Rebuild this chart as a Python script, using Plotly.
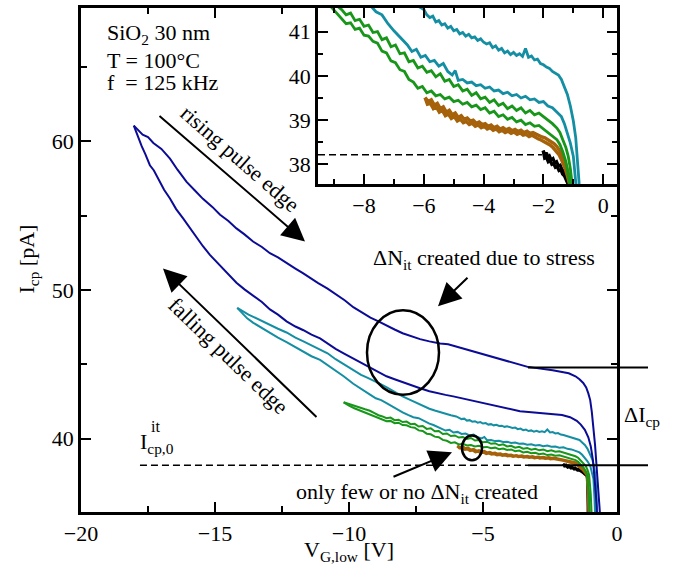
import plotly.graph_objects as go

# ---------------- data ----------------
navy_rise_v = [-18.03, -17.85, -17.7, -17.5, -17.3, -17.0, -16.68, -16.4, -16.06, -15.75, -15.45, -15.1, -14.81, -14.5, -14.2,
               -13.9, -13.58, -13.25, -12.95, -12.65, -12.33, -12.0, -11.72, -11.45, -11.15, -10.8, -10.5, -10.15, -9.84, -9.5,
               -9.2, -8.9, -8.6, -8.3, -8.0, -7.7, -7.35, -7.0, -6.6, -6.3, -6.0, -5.7, -5.4, -5.1, -4.86, -4.5, -4.2, -3.9,
               -3.6, -3.3, -3.0, -2.7, -2.4, -2.1, -1.8, -1.55, -1.4, -1.26, -1.15, -1.07, -1.0, -0.94, -0.88, -0.82, -0.76,
               -0.7, -0.64]
navy_rise_i = [61.07, 60.75, 60.45, 60.3, 59.9, 59.5, 58.84, 58.1, 57.28, 56.7, 56.14, 55.6, 55.07, 54.65, 54.15,
               53.75, 53.27, 52.9, 52.48, 52.2, 51.81, 51.45, 51.14, 50.8, 50.47, 50.1, 49.75, 49.3, 48.85, 48.5,
               48.15, 47.9, 47.6, 47.35, 47.1, 46.9, 46.7, 46.55, 46.4, 46.35, 46.2, 46.05, 45.9, 45.75, 45.62, 45.45, 45.3, 45.15,
               45.0, 44.82, 44.75, 44.7, 44.6, 44.5, 44.4, 44.2, 44.0, 43.75, 43.45, 43.05, 42.6, 41.8, 40.9, 39.6, 38.1,
               36.6, 35.07]
navy_fall_v = [-18.03, -17.9, -17.74, -17.6, -17.43, -17.28, -17.12, -16.9, -16.68, -16.45, -16.19, -15.95, -15.68, -15.45,
               -15.19, -14.95, -14.69, -14.45, -14.2, -13.9, -13.57, -13.25, -12.95, -12.65, -12.33, -12.0, -11.7, -11.4,
               -11.08, -10.8, -10.5, -10.2, -9.84, -9.5, -9.2, -8.9, -8.6, -8.3, -8.0, -7.7, -7.35, -7.0, -6.7, -6.4, -6.11,
               -5.8, -5.5, -5.2, -4.86, -4.5, -4.2, -3.9, -3.62, -3.3, -3.0, -2.7, -2.38, -2.05, -1.75, -1.5, -1.35, -1.2,
               -1.07, -0.98, -0.9, -0.84, -0.79, -0.75]
navy_fall_i = [61.07, 60.4, 59.7, 59.15, 58.4, 58.05, 57.5, 56.75, 56.16, 55.45, 54.82, 54.2, 53.49, 52.95,
               52.37, 51.9, 51.4, 50.95, 50.5, 50.05, 49.6, 49.2, 48.7, 48.35, 47.9, 47.55, 47.3, 47.0,
               46.75, 46.4, 46.05, 45.75, 45.4, 45.05, 44.8, 44.5, 44.2, 44.0, 43.8, 43.6, 43.4, 43.2, 43.05, 42.95, 42.85,
               42.72, 42.6, 42.48, 42.35, 42.2, 42.05, 41.95, 41.85, 41.8, 41.75, 41.72, 41.65, 41.6, 41.45, 41.2, 40.95, 40.6,
               40.1, 39.5, 38.6, 37.6, 36.3, 35.07]

teal_rise_v = [-14.17, -13.95, -13.75, -13.57, -13.3, -12.95, -12.65, -12.33, -12.0, -11.7, -11.4, -11.08, -10.8, -10.5,
               -10.2, -9.84, -9.55, -9.3, -9.0, -8.8, -8.59, -8.3, -8.0, -7.7, -7.35, -7.0, -6.8, -6.6, -6.4, -6.2, -6.0,
               -5.9, -5.8, -5.7, -5.6, -5.5, -5.4, -5.3, -5.2, -5.1, -5.0, -4.9, -4.8, -4.7, -4.6, -4.5, -4.4, -4.3, -4.2,
               -4.1, -4.0, -3.9, -3.8, -3.7, -3.6, -3.5, -3.4, -3.3, -3.2, -3.1, -3.0, -2.9, -2.8, -2.7, -2.6, -2.5, -2.4,
               -2.3, -2.2, -2.1, -2.0, -1.9, -1.8, -1.7, -1.6, -1.5, -1.4, -1.3, -1.2, -1.1, -1.0, -0.92, -0.86, -0.81,
               -0.77, -0.74]
teal_rise_i = [48.8, 48.55, 48.35, 48.2, 47.95, 47.65, 47.4, 47.15, 46.8, 46.55, 46.3, 46.0, 45.75, 45.35,
               45.0, 44.6, 44.3, 44.1, 43.85, 43.65, 43.45, 43.15, 42.85, 42.6, 42.3, 42.02, 41.9, 41.78, 41.66, 41.58, 41.5,
               41.38, 41.32, 41.35, 41.22, 41.25, 41.15, 41.18, 41.08, 41.12, 41.02, 41.05, 40.95, 40.98, 40.9, 40.94, 40.86,
               40.88, 40.8, 40.84, 40.76, 40.72, 40.75, 40.64, 40.68, 40.58, 40.62, 40.52, 40.56, 40.48, 40.53, 40.46, 40.5,
               40.44, 40.62, 40.42, 40.45, 40.36, 40.38, 40.28, 40.25, 40.2, 40.17, 40.1, 40.06, 40.02, 39.92, 39.75, 39.58,
               39.32, 38.98, 38.6, 38.15, 37.6, 36.5, 35.07]
teal_fall_v = [-14.17, -14.0, -13.8, -13.57, -13.3, -12.95, -12.65, -12.33, -12.0, -11.7, -11.4, -11.08, -10.8, -10.5,
               -10.2, -9.84, -9.6, -9.4, -9.2, -9.0, -8.8, -8.6, -8.4, -8.2, -8.0, -7.8, -7.6, -7.4, -7.2, -7.0, -6.85,
               -6.7, -6.55, -6.4, -6.25, -6.1, -5.95, -5.8, -5.65, -5.5, -5.35, -5.2, -5.05, -4.95, -4.85, -4.7, -4.55,
               -4.4, -4.25, -4.1, -3.95, -3.8, -3.65, -3.5, -3.35, -3.2, -3.05, -2.9, -2.75, -2.6, -2.45, -2.3, -2.15,
               -2.0, -1.85, -1.7, -1.55, -1.4, -1.3, -1.2, -1.1, -1.0, -0.93, -0.88, -0.84, -0.82]
teal_fall_i = [48.8, 48.45, 48.1, 47.8, 47.5, 47.1, 46.8, 46.5, 46.15, 45.85, 45.55, 45.3, 44.95, 44.6,
               44.2, 43.7, 43.4, 43.15, 42.95, 42.72, 42.6, 42.4, 42.18, 41.98, 41.78, 41.6, 41.45, 41.38, 41.18, 41.02, 40.92,
               40.8, 40.7, 40.55, 40.6, 40.42, 40.46, 40.32, 40.35, 40.22, 40.28, 40.1, 40.02, 40.12, 39.9, 39.92, 39.84,
               39.86, 39.78, 39.8, 39.72, 39.75, 39.66, 39.68, 39.6, 39.63, 39.55, 39.58, 39.5, 39.54, 39.46, 39.48, 39.4,
               39.42, 39.32, 39.28, 39.18, 39.08, 38.92, 38.72, 38.48, 38.18, 37.75, 37.3, 36.0, 35.07]

green_rise_v = [-10.2, -10.0, -9.8, -9.6, -9.4, -9.22, -9.05, -8.9, -8.75, -8.6, -8.45, -8.3, -8.15, -8.0, -7.85, -7.7,
                -7.55, -7.4, -7.25, -7.1, -6.95, -6.8, -6.65, -6.5, -6.35, -6.2, -6.05, -5.9, -5.75, -5.6, -5.45, -5.3,
                -5.15, -5.0, -4.85, -4.7, -4.55, -4.4, -4.25, -4.1, -3.95, -3.8, -3.65, -3.5, -3.35, -3.2, -3.05, -2.9,
                -2.75, -2.6, -2.45, -2.3, -2.15, -2.0, -1.85, -1.7, -1.55, -1.45, -1.35, -1.25, -1.17, -1.1, -1.04, -0.98,
                -0.95]
green_rise_i = [42.45, 42.35, 42.22, 42.1, 41.98, 41.88, 41.72, 41.58, 41.5, 41.38, 41.42, 41.25, 41.28, 41.12, 41.15, 40.98,
                41.0, 40.82, 40.86, 40.66, 40.7, 40.5, 40.52, 40.32, 40.35, 40.18, 40.22, 40.08, 40.12, 39.98, 40.05, 39.88,
                39.92, 39.76, 39.8, 39.66, 39.7, 39.56, 39.62, 39.48, 39.52, 39.4, 39.46, 39.33, 39.38, 39.26, 39.32, 39.22,
                39.28, 39.16, 39.22, 39.12, 39.16, 39.08, 39.02, 38.92, 38.82, 38.72, 38.55, 38.38, 38.18, 37.9, 37.56, 36.3,
                35.07]
green_fall_v = [-10.2, -10.0, -9.8, -9.6, -9.4, -9.22, -9.05, -8.9, -8.75, -8.6, -8.45, -8.3, -8.15, -8.0, -7.85, -7.7,
                -7.55, -7.4, -7.25, -7.1, -6.95, -6.8, -6.65, -6.5, -6.35, -6.2, -6.05, -5.9, -5.75, -5.6, -5.45, -5.3,
                -5.15, -5.0, -4.85, -4.7, -4.55, -4.4, -4.25, -4.1, -3.95, -3.8, -3.65, -3.5, -3.35, -3.2, -3.05, -2.9,
                -2.75, -2.6, -2.45, -2.3, -2.15, -2.0, -1.85, -1.7, -1.55, -1.45, -1.35, -1.25, -1.18, -1.12, -1.06, -1.02]
green_fall_i = [42.45, 42.22, 42.05, 41.9, 41.78, 41.66, 41.52, 41.4, 41.3, 41.18, 41.2, 41.05, 41.08, 40.92, 40.9, 40.78,
                40.74, 40.56, 40.52, 40.34, 40.3, 40.14, 40.1, 39.92, 39.86, 39.72, 39.76, 39.62, 39.66, 39.55, 39.58, 39.48,
                39.52, 39.42, 39.45, 39.36, 39.4, 39.3, 39.34, 39.24, 39.28, 39.16, 39.2, 39.08, 39.12, 39.02, 39.06, 38.96,
                39.0, 38.9, 38.94, 38.86, 38.88, 38.8, 38.74, 38.66, 38.56, 38.45, 38.28, 38.06, 37.82, 37.56, 36.4, 35.07]

brown_rise_v = [-5.96, -5.85, -5.75, -5.65, -5.55, -5.45, -5.35, -5.25, -5.15, -5.05, -4.95, -4.85, -4.75, -4.65, -4.55,
                -4.45, -4.35, -4.25, -4.15, -4.05, -3.95, -3.85, -3.75, -3.65, -3.55, -3.45, -3.35, -3.25, -3.15, -3.05,
                -2.95, -2.85, -2.75, -2.65, -2.55, -2.45, -2.35, -2.25, -2.15, -2.05, -1.95, -1.85, -1.75, -1.65, -1.55,
                -1.45, -1.35, -1.25, -1.17, -1.1, -1.06, -1.04]
brown_rise_i = [39.51, 39.42, 39.46, 39.34, 39.38, 39.26, 39.3, 39.18, 39.22, 39.12, 39.16, 39.06, 39.1, 39.02, 39.05,
                38.98, 39.0, 38.93, 38.96, 38.9, 38.92, 38.86, 38.89, 38.83, 38.86, 38.8, 38.83, 38.78, 38.81, 38.76,
                38.79, 38.74, 38.77, 38.72, 38.75, 38.7, 38.72, 38.68, 38.66, 38.62, 38.6, 38.56, 38.52, 38.47, 38.4,
                38.3, 38.16, 38.0, 37.8, 37.56, 36.5, 35.07]
brown_fall_v = [-5.96, -5.88, -5.78, -5.68, -5.58, -5.48, -5.38, -5.28, -5.18, -5.08, -4.98, -4.88, -4.78, -4.68, -4.58,
                -4.48, -4.38, -4.28, -4.18, -4.08, -3.98, -3.88, -3.78, -3.68, -3.58, -3.48, -3.38, -3.28, -3.18, -3.08,
                -2.98, -2.88, -2.78, -2.68, -2.58, -2.48, -2.38, -2.28, -2.18, -2.08, -1.98, -1.88, -1.78, -1.68, -1.58,
                -1.48, -1.38, -1.28, -1.2, -1.13, -1.08, -1.06]
brown_fall_i = [39.51, 39.36, 39.38, 39.26, 39.3, 39.18, 39.22, 39.1, 39.14, 39.04, 39.08, 38.98, 39.02, 38.94, 38.97,
                38.9, 38.93, 38.86, 38.89, 38.83, 38.86, 38.8, 38.83, 38.77, 38.8, 38.74, 38.77, 38.72, 38.75, 38.7,
                38.73, 38.68, 38.71, 38.66, 38.68, 38.63, 38.66, 38.61, 38.58, 38.55, 38.52, 38.48, 38.44, 38.38, 38.31,
                38.22, 38.08, 37.92, 37.74, 37.56, 36.4, 35.07]

black_rise_v = [-2.01, -1.95, -1.9, -1.85, -1.8, -1.74, -1.68, -1.62, -1.56, -1.5, -1.44, -1.38, -1.32, -1.26, -1.2,
                -1.14, -1.1, -1.08, -1.07]
black_rise_i = [38.31, 38.22, 38.26, 38.16, 38.19, 38.1, 38.13, 38.03, 38.06, 37.96, 37.98, 37.88, 37.86, 37.76, 37.7,
                37.58, 37.4, 36.5, 35.07]
black_fall_v = [-2.01, -1.96, -1.9, -1.84, -1.78, -1.72, -1.66, -1.6, -1.54, -1.48, -1.42, -1.36, -1.3, -1.24, -1.18,
                -1.13, -1.1, -1.09]
black_fall_i = [38.31, 38.14, 38.16, 38.06, 38.09, 38.0, 38.02, 37.93, 37.95, 37.86, 37.88, 37.78, 37.74, 37.66, 37.58,
                37.48, 37.2, 35.07]

i_cp0 = 38.22          # reference level I_cp,0^it
i_cp_stress = 44.79    # level after stress

main_xticks = [-20, -15, -10, -5, 0]
main_xticktext = ["\u221220", "\u221215", "\u221210", "\u22125", "0"]
main_xminor = [-17.5, -12.5, -7.5, -2.5]
main_yticks = [40, 50, 60]
main_yminor = [45, 55, 65]
ins_xticks = [-8, -6, -4, -2, 0]
ins_xticktext = ["\u22128", "\u22126", "\u22124", "\u22122", "0"]
ins_xminor = [-9, -7, -5, -3, -1]
ins_yticks = [38, 39, 40, 41]
ins_yminor = [38.5, 39.5, 40.5]

# ---------------- layout geometry ----------------
W, H = 685, 567
L, R, T, B = 81, 617, 5, 512
XR = [-20, 0]
YR = [35.07, 68.98]
INS_L, INS_B = 318, 182
IXR = [-9.54, 0.46]
IYR = [37.557, 41.535]
FONT = "Liberation Serif, Times New Roman, serif"


def P(px, py):
    return (px - L) / (R - L), (B - py) / (B - T)


def yfrac(v):
    return (v - YR[0]) / (YR[1] - YR[0])


NAVY = "#0b0b96"
TEAL = "#148ea3"
GREEN = "#17961a"
BROWN = "#a5620a"
BLACK = "#000000"

fig = go.Figure()

series = [
    (black_rise_v, black_rise_i, BLACK, 2.4),
    (black_fall_v, black_fall_i, BLACK, 2.4),
    (brown_rise_v, brown_rise_i, BROWN, 2.6),
    (brown_fall_v, brown_fall_i, BROWN, 2.6),
    (green_rise_v, green_rise_i, GREEN, 2.0),
    (green_fall_v, green_fall_i, GREEN, 2.0),
    (teal_rise_v, teal_rise_i, TEAL, 2.0),
    (teal_fall_v, teal_fall_i, TEAL, 2.0),
]
for vx, iy, col, w in series:
    fig.add_trace(go.Scatter(x=vx, y=iy, mode="lines", line=dict(color=col, width=w),
                             xaxis="x", yaxis="y", showlegend=False, hoverinfo="skip"))
for vx, iy in [(navy_rise_v, navy_rise_i), (navy_fall_v, navy_fall_i)]:
    fig.add_trace(go.Scatter(x=vx, y=iy, mode="lines", line=dict(color=NAVY, width=2.0),
                             xaxis="x", yaxis="y", showlegend=False, hoverinfo="skip"))
# inset
for vx, iy, col, w in series:
    fig.add_trace(go.Scatter(x=vx, y=iy, mode="lines", line=dict(color=col, width=w + 0.8),
                             xaxis="x2", yaxis="y2", showlegend=False, hoverinfo="skip"))
# dummy traces for the partial mirrored tick axes
fig.add_trace(go.Scatter(x=[], y=[], xaxis="x3", yaxis="y", showlegend=False))
fig.add_trace(go.Scatter(x=[], y=[], xaxis="x", yaxis="y3", showlegend=False))

tickfont = dict(family=FONT, size=22, color="black")
ax_common = dict(showgrid=False, zeroline=False, showline=True, linecolor="black", linewidth=2.5,
                 ticks="inside", ticklen=10, tickwidth=2, tickcolor="black", tickfont=tickfont)

ins_x0 = (INS_L - L) / (R - L)
ins_y0 = (B - INS_B) / (B - T)
top_frac = ins_x0
right_frac = ins_y0

fig.update_layout(
    width=W, height=H,
    margin=dict(l=L, r=W - R, t=T, b=H - B),
    paper_bgcolor="white", plot_bgcolor="rgba(0,0,0,0)",
    showlegend=False,
    font=dict(family=FONT, size=22, color="black"),
    xaxis=dict(**ax_common, domain=[0, 1], range=XR, anchor="y", mirror=True,
               tickmode="array", tickvals=main_xticks, ticktext=main_xticktext,
               minor=dict(tickmode="array", tickvals=main_xminor, ticks="inside", ticklen=6, tickwidth=2,
                          tickcolor="black")),
    yaxis=dict(**ax_common, domain=[0, 1], range=YR, anchor="x", mirror=True,
               tickmode="array", tickvals=main_yticks,
               minor=dict(tickmode="array", tickvals=main_yminor, ticks="inside", ticklen=6, tickwidth=2,
                          tickcolor="black")),
    xaxis3=dict(showgrid=False, zeroline=False, showline=False, ticks="inside", ticklen=10, tickwidth=2,
                tickcolor="black", showticklabels=False, anchor="y", side="top",
                domain=[0, top_frac], range=[XR[0], XR[0] + top_frac * (XR[1] - XR[0])],
                tickmode="array", tickvals=main_xticks,
                minor=dict(tickmode="array", tickvals=main_xminor, ticks="inside", ticklen=6, tickwidth=2,
                           tickcolor="black")),
    yaxis3=dict(showgrid=False, zeroline=False, showline=False, ticks="inside", ticklen=10, tickwidth=2,
                tickcolor="black", showticklabels=False, anchor="x", side="right",
                domain=[0, right_frac], range=[YR[0], YR[0] + right_frac * (YR[1] - YR[0])],
                tickmode="array", tickvals=main_yticks,
                minor=dict(tickmode="array", tickvals=main_yminor, ticks="inside", ticklen=6, tickwidth=2,
                           tickcolor="black")),
    xaxis2=dict(**ax_common, domain=[ins_x0, 1], range=IXR, anchor="y2", mirror="ticks",
                tickmode="array", tickvals=ins_xticks, ticktext=ins_xticktext,
                minor=dict(tickmode="array", tickvals=ins_xminor, ticks="inside", ticklen=5, tickwidth=2,
                           tickcolor="black")),
    yaxis2=dict(**ax_common, domain=[ins_y0, 1], range=IYR, anchor="x2", mirror="ticks",
                tickmode="array", tickvals=ins_yticks,
                minor=dict(tickmode="array", tickvals=ins_yminor, ticks="inside", ticklen=5, tickwidth=2,
                           tickcolor="black")),
)

shapes = []
shapes.append(dict(type="line", xref="x", yref="y", x0=-17.8, x1=-3.32, y0=i_cp0, y1=i_cp0,
                   line=dict(color="black", width=1.5, dash="7px,4px")))
shapes.append(dict(type="line", xref="x2", yref="y2", x0=IXR[0], x1=-2.05, y0=i_cp0, y1=i_cp0,
                   line=dict(color="black", width=1.5, dash="7px,4px")))
for lvl in (i_cp0, i_cp_stress):
    x0p, _ = P(528, 0)
    x1p, _ = P(648, 0)
    shapes.append(dict(type="line", xref="paper", yref="paper", x0=x0p, x1=x1p, y0=yfrac(lvl), y1=yfrac(lvl),
                       line=dict(color="black", width=2)))
ex0, ey0 = P(367, 394)
ex1, ey1 = P(439, 309)
shapes.append(dict(type="circle", xref="paper", yref="paper", x0=ex0, x1=ex1, y0=ey0, y1=ey1,
                   line=dict(color="black", width=2.5)))
sx0, sy0 = P(462, 460)
sx1, sy1 = P(482, 435)
shapes.append(dict(type="circle", xref="paper", yref="paper", x0=sx0, x1=sx1, y0=sy0, y1=sy1,
                   line=dict(color="black", width=2.5)))
fig.update_layout(shapes=shapes)

ann = []


def text(px, py, s, xanchor="center", yanchor="middle", angle=0, size=22):
    x, y = P(px, py)
    ann.append(dict(x=x, y=y, xref="paper", yref="paper", text=s, showarrow=False, xanchor=xanchor,
                    yanchor=yanchor, textangle=angle, font=dict(family=FONT, size=size, color="black")))


def arrow(tx, ty, hx, hy):
    x, y = P(hx, hy)
    ann.append(dict(x=x, y=y, xref="paper", yref="paper", text="", showarrow=True, ax=tx - hx, ay=ty - hy,
                    axref="pixel", ayref="pixel", arrowhead=2, arrowsize=2.3, arrowwidth=2, arrowcolor="black",
                    standoff=0))


text(105, 31, "SiO<sub>2</sub> 30 nm", xanchor="left")
text(105, 58, "T = 100°C", xanchor="left")
text(105, 80, "f\u00a0 = 125 kHz", xanchor="left")
text(240, 156, "rising pulse edge", angle=41)
text(228, 355, "falling pulse edge", angle=44)
text(484, 257, "ΔN<sub>it</sub> created due to stress")
text(417, 493, "only few or no ΔN<sub>it</sub> created")
text(622, 415, "ΔI<sub>cp</sub>", xanchor="left")
text(138, 443, "I<sub>cp,0</sub>", xanchor="left")
text(149, 426, "it", xanchor="left", size=16)
text(349, 551, "V<sub>G,low</sub> [V]")
text(28, 258, "I<sub>cp</sub> [pA]", angle=-90)

arrow(158, 113, 305, 240)
arrow(318, 417, 163, 267)
arrow(469, 275, 438, 305)
arrow(392, 477, 452, 452)

fig.update_layout(annotations=ann)
fig.write_html("out.html", config={"displayModeBar": False},
               post_script="document.body.style.margin='0';document.body.style.padding='0';"
                           "document.documentElement.style.overflow='hidden';")
